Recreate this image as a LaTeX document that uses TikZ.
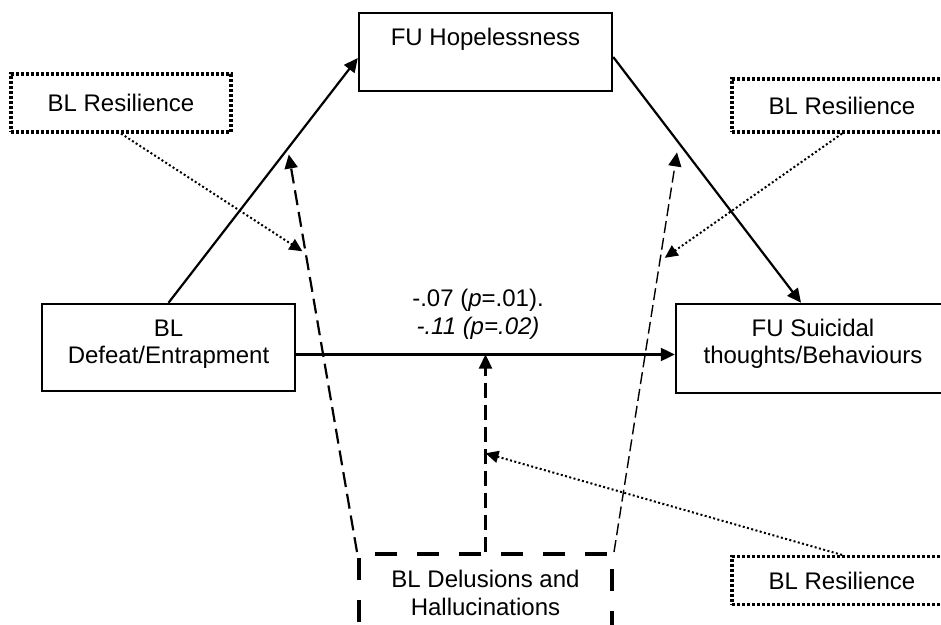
\documentclass[tikz,border=0pt]{standalone}
\usepackage{fontspec}
\setmainfont{Liberation Sans}
\usetikzlibrary{arrows.meta,calc}

\tikzset{
  box/.style={draw, line width=1.2pt, inner sep=0pt, align=center},
  modbox/.style={box, line width=1.6pt, dash pattern=on 1.5pt off 1pt},
  moderatorbox/.style={box, line width=2pt, dash pattern=on 11pt off 10pt},
  tip/.style={-{Triangle[length=7pt,width=6.5pt]}},
  solidpath/.style={tip, line width=1.1pt},
  dashpath/.style={tip, line width=1.1pt, dash pattern=on 7.5pt off 3.5pt},
  thindashpath/.style={tip, line width=0.7pt, dash pattern=on 6pt off 2.5pt},
  dotpath/.style={-{Triangle[length=6.5pt,width=6pt]}, line width=1pt, dash pattern=on 1pt off 1.2pt},
}

\begin{document}
\begin{tikzpicture}[x=0.5pt, y=-0.5pt, font=\fontsize{12}{13.8}\selectfont]
\useasboundingbox (0,0) rectangle (941,625);

% main variables (text sits in the upper part of each box)
\node[box, minimum width=126.5pt, minimum height=39pt, text height=16.3pt, text depth=22.7pt]
  (hope) at (485.5,52) {FU Hopelessness};
\node[box, minimum width=126.5pt, minimum height=43.5pt, text height=29.8pt, text depth=13.7pt]
  (defeat) at (168.5,347.5) {BL\\Defeat/Entrapment};
\node[box, minimum width=137pt, minimum height=44.5pt, text height=29.8pt, text depth=14.7pt]
  (suic) at (813,348.5) {FU Suicidal\\thoughts/Behaviours};

% moderators
\node[moderatorbox, minimum width=126.5pt, minimum height=39pt, text height=30.65pt, text depth=8.35pt]
  (delus) at (485.5,593) {BL Delusions and\\Hallucinations};
\node[modbox, minimum width=110pt, minimum height=29pt] (resTL) at (121,103) {BL Resilience};
\node[modbox, minimum width=110pt, minimum height=26.5pt] (resTR) at (842,105.5) {BL Resilience};
\node[modbox, minimum width=110pt, minimum height=24pt] (resBR) at (842,580.5) {BL Resilience};

% coefficient label on the direct path
\node[align=center, font=\fontsize{12}{14}\selectfont] (coef) at (478,314)
  {-.07 (\textit{p}=.01).\\\textit{-.11 (p=.02)}};

% indirect path
\draw[solidpath] (defeat.north) -- coordinate[pos=0.63] (m1) ($(hope.west)+(0,6)$);
\draw[solidpath] ($(hope.east)+(0,5)$) -- coordinate[pos=0.348] (m2) ($(suic.north)+(-12,0)$);

% direct path
\coordinate (dl) at ($(defeat.east)+(0,7)$);
\draw[solidpath] (dl) -- (dl -| suic.west);

% moderation by delusions and hallucinations
\draw[dashpath] (delus.north) -- coordinate[pos=0.5] (m3) (delus.north |- dl);
\draw[dashpath, shorten >=3pt] (delus.north west) -- coordinate[pos=0.74] (m4) (m1);
\draw[thindashpath, shorten >=5pt] (delus.north east) -- coordinate[pos=0.71] (m5) (m2);

% moderation by resilience
\draw[dotpath, shorten >=2pt] (resTL.south) -- (m4);
\draw[dotpath, shorten >=3pt] (resTR.south) -- (m5);
\draw[dotpath] (resBR.north) -- (m3);
\end{tikzpicture}
\end{document}
